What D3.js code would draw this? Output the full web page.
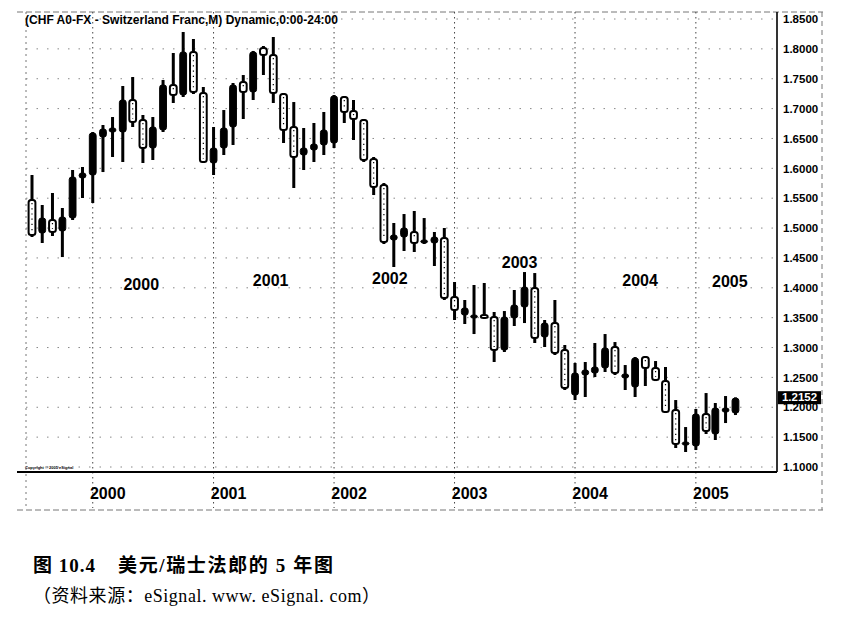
<!DOCTYPE html>
<html>
<head>
<meta charset="utf-8">
<script src="https://cdn.jsdelivr.net/npm/d3@7"></script>
<style>
  body { margin: 0; background: #fff; }
  svg { display: block; }
</style>
</head>
<body>
<div id="chart"></div>
<script>
// Monthly USD/CHF candles, Jul 1999 .. May 2005
const startMonth = new Date(1999, 6, 1);
const opens = [
  1.5470, 1.4917, 1.5135, 1.4951, 1.5168, 1.5838,
  1.5888, 1.6524, 1.6608, 1.6608, 1.7144, 1.6809, 1.6340, 1.6642, 1.7395, 1.7228, 1.7948, 1.7261,
  1.6089, 1.6340, 1.6692, 1.7445, 1.7278, 1.8014, 1.7897, 1.7244, 1.6692, 1.6223, 1.6307, 1.6391,
  1.6424, 1.7194, 1.6960, 1.6809, 1.6156, 1.5721, 1.4800, 1.4850, 1.4934, 1.4750, 1.4750, 1.4833,
  1.3846, 1.3544, 1.3494, 1.3544, 1.3511, 1.2958, 1.3494, 1.3678, 1.3996, 1.3176, 1.3410, 1.2958,
  1.2205, 1.2540, 1.2573, 1.2657, 1.3009, 1.2490, 1.2339, 1.2841, 1.2657, 1.2439, 1.1954, 1.1368,
  1.1351, 1.1887, 1.1552, 1.1920, 1.1904
];
const highs = [
  1.5888, 1.5386, 1.5587, 1.5336, 1.5972, 1.6022,
  1.6608, 1.6725, 1.6859, 1.7378, 1.7529, 1.6893, 1.6859, 1.7479, 1.7931, 1.8282, 1.8165, 1.7362,
  1.6692, 1.6976, 1.7429, 1.7562, 1.7965, 1.8048, 1.8199, 1.7261, 1.7110, 1.6675, 1.6759, 1.6943,
  1.7228, 1.7211, 1.7144, 1.6826, 1.6190, 1.5754, 1.5085, 1.5235, 1.5286, 1.5168, 1.4934, 1.5001,
  1.4097, 1.3796, 1.4047, 1.4080, 1.3595, 1.3611, 1.3963, 1.4264, 1.4247, 1.3461, 1.3796, 1.3042,
  1.2741, 1.2758, 1.3076, 1.3226, 1.3092, 1.2707, 1.2841, 1.2858, 1.2774, 1.2674, 1.2121, 1.1669,
  1.1971, 1.2238, 1.2071, 1.2188, 1.2165
];
const lows = [
  1.4850, 1.4750, 1.4867, 1.4515, 1.5135, 1.5503,
  1.5419, 1.5938, 1.6190, 1.6106, 1.6692, 1.6089, 1.6139, 1.6608, 1.7094, 1.7194, 1.7244, 1.6089,
  1.5888, 1.6223, 1.6391, 1.6826, 1.7144, 1.7562, 1.7094, 1.6424, 1.5671, 1.5972, 1.6106, 1.6223,
  1.6340, 1.6759, 1.6474, 1.6106, 1.5553, 1.4733, 1.4348, 1.4616, 1.4599, 1.4733, 1.4365, 1.3796,
  1.3461, 1.3394, 1.3226, 1.3494, 1.2758, 1.2925, 1.3360, 1.3410, 1.3076, 1.3009, 1.2875, 1.2289,
  1.2121, 1.2172, 1.2506, 1.2590, 1.2540, 1.2289, 1.2172, 1.2356, 1.2439, 1.1904, 1.1318, 1.1251,
  1.1284, 1.1552, 1.1452, 1.1736, 1.1870
];
const closes = [
  1.4884, 1.5168, 1.4934, 1.5185, 1.5855, 1.5922,
  1.6591, 1.6658, 1.6675, 1.7144, 1.6776, 1.6340, 1.6692, 1.7395, 1.7228, 1.7948, 1.7278, 1.6106,
  1.6340, 1.6675, 1.7395, 1.7278, 1.7948, 1.7897, 1.7261, 1.6642, 1.6190, 1.6340, 1.6407, 1.6642,
  1.7211, 1.6943, 1.6826, 1.6139, 1.5687, 1.4767, 1.4884, 1.5001, 1.4750, 1.4800, 1.4850, 1.3829,
  1.3628, 1.3662, 1.3544, 1.3494, 1.2958, 1.3511, 1.3712, 1.4013, 1.3159, 1.3410, 1.2908, 1.2322,
  1.2573, 1.2624, 1.2674, 1.2992, 1.2573, 1.2557, 1.2824, 1.2657, 1.2456, 1.1920, 1.1385, 1.1418,
  1.1887, 1.1602, 1.1987, 1.1987, 1.2152
];
const lastPrice = 1.2152;
const priceTicks = [1.10, 1.15, 1.20, 1.25, 1.30, 1.35, 1.40, 1.45, 1.50, 1.55, 1.60, 1.65, 1.70, 1.75, 1.80, 1.85];
const years = [2000, 2001, 2002, 2003, 2004, 2005];
// in-chart year notes: [label, date it sits over, price level]
const notes = [
  ["2000", new Date(2000, 4, 27), 1.4030],
  ["2001", new Date(2001, 5, 23), 1.4097],
  ["2002", new Date(2002, 5, 19), 1.4139],
  ["2003", new Date(2003, 6, 17), 1.4398],
  ["2004", new Date(2004, 6, 16), 1.4105],
  ["2005", new Date(2005, 3, 14), 1.4088]
];
const title = "(CHF A0-FX - Switzerland Franc,M) Dynamic,0:00-24:00";

const data = opens.map((o, i) => ({
  date: d3.timeMonth.offset(startMonth, i),
  open: o, high: highs[i], low: lows[i], close: closes[i]
}));

const width = 842, height = 618;
const plot = {left: 26, right: 777, top: 12, bottom: 472};

const svg = d3.select("#chart")
  .append("svg")
  .attr("width", width)
  .attr("height", height)
  .style("background", "#fff");

const x = d3.scaleTime()
  .domain([startMonth, new Date(2005, 6, 1)])
  .range([32, 755.6]);

const y = d3.scaleLinear()
  .domain([1.10, 1.85])
  .range([467, 19]);

// outer dashed frame
const frame = svg.append("g")
  .attr("fill", "none")
  .attr("stroke", "#777")
  .attr("stroke-width", 1);
frame.append("line").attr("x1", 17).attr("x2", 823).attr("y1", plot.top).attr("y2", plot.top)
  .attr("stroke-dasharray", "6,3");
frame.append("line").attr("x1", 17).attr("x2", 823).attr("y1", 510).attr("y2", 510)
  .attr("stroke-dasharray", "6,3");
frame.append("line").attr("x1", plot.left).attr("x2", plot.left).attr("y1", plot.top).attr("y2", 510)
  .attr("stroke-dasharray", "2,4");
frame.append("line").attr("x1", 822).attr("x2", 822).attr("y1", plot.top).attr("y2", 510)
  .attr("stroke-dasharray", "5,4");

// horizontal grid
svg.append("g")
  .selectAll("line")
  .data(priceTicks)
  .join("line")
  .attr("x1", plot.left)
  .attr("x2", plot.right)
  .attr("y1", d => y(d))
  .attr("y2", d => y(d))
  .attr("stroke", "#888")
  .attr("stroke-dasharray", "1.5,9");

// vertical year grid
svg.append("g")
  .selectAll("line")
  .data(years)
  .join("line")
  .attr("x1", d => x(new Date(d, 0, 1)))
  .attr("x2", d => x(new Date(d, 0, 1)))
  .attr("y1", plot.top)
  .attr("y2", 508)
  .attr("stroke", "#444")
  .attr("stroke-dasharray", "1.5,3.5");

// title
svg.append("text")
  .attr("x", 25)
  .attr("y", 24)
  .attr("textLength", 313)
  .attr("lengthAdjust", "spacingAndGlyphs")
  .style("font-family", "Liberation Sans, Arial, sans-serif")
  .style("font-weight", "bold")
  .style("font-size", "12px")
  .text(title);

// candles
const candles = svg.append("g")
  .selectAll("g")
  .data(data)
  .join("g")
  .attr("transform", d => `translate(${x(d.date)},0)`);

candles.append("line")
  .attr("y1", d => y(d.high))
  .attr("y2", d => y(d.low))
  .attr("stroke", "#000")
  .attr("stroke-width", 3);

candles.append("rect")
  .attr("x", -3.4)
  .attr("width", 6.8)
  .attr("y", d => y(Math.max(d.open, d.close)))
  .attr("height", d => Math.max(3, Math.abs(y(d.open) - y(d.close))))
  .attr("rx", 2.5)
  .attr("fill", d => d.close >= d.open ? "#000" : "#fff")
  .attr("stroke", "#000")
  .attr("stroke-width", d => d.close >= d.open ? 1 : 2);

// faint dots inside the hollow bodies
candles.filter(d => d.close < d.open && y(d.close) - y(d.open) > 8)
  .append("line")
  .attr("y1", d => y(d.open) + 3)
  .attr("y2", d => y(d.close) - 3)
  .attr("stroke", "#000")
  .attr("stroke-width", 1.2)
  .attr("stroke-dasharray", "1.2,4");

// in-chart year notes
svg.append("g")
  .selectAll("text")
  .data(notes)
  .join("text")
  .attr("x", d => x(d[1]))
  .attr("y", d => y(d[2]))
  .attr("text-anchor", "middle")
  .attr("dominant-baseline", "middle")
  .style("font-family", "Liberation Sans, Arial, sans-serif")
  .style("font-weight", "bold")
  .style("font-size", "16px")
  .text(d => d[0]);

// plot borders (solid)
svg.append("line").attr("x1", plot.right).attr("x2", plot.right)
  .attr("y1", plot.top).attr("y2", plot.bottom)
  .attr("stroke", "#000").attr("stroke-width", 1.6);
svg.append("line").attr("x1", 17).attr("x2", plot.right)
  .attr("y1", plot.bottom).attr("y2", plot.bottom)
  .attr("stroke", "#000").attr("stroke-width", 2);

// right price axis
const yAxis = svg.append("g")
  .attr("transform", `translate(${plot.right + 3},0)`)
  .call(d3.axisRight(y).tickValues(priceTicks).tickSize(0).tickFormat(d3.format(".4f")));
yAxis.select(".domain").remove();
yAxis.selectAll("text")
  .attr("x", 3)
  .style("font-family", "Liberation Sans, Arial, sans-serif")
  .style("font-weight", "bold")
  .style("font-size", "11.5px")
  .attr("fill", "#000");

// last price marker (sits over the top of the 1.2000 label, as in the source)
svg.append("rect")
  .attr("x", plot.right + 1)
  .attr("y", y(lastPrice) - 7)
  .attr("width", 43)
  .attr("height", 13)
  .attr("fill", "#000");
svg.append("text")
  .attr("x", plot.right + 22.5)
  .attr("y", y(lastPrice))
  .attr("text-anchor", "middle")
  .attr("dominant-baseline", "middle")
  .attr("fill", "#fff")
  .style("font-family", "Liberation Sans, Arial, sans-serif")
  .style("font-weight", "bold")
  .style("font-size", "11.5px")
  .text(d3.format(".4f")(lastPrice));

// bottom time axis labels
const xAxis = svg.append("g")
  .attr("transform", `translate(0,${plot.bottom})`)
  .call(d3.axisBottom(x)
    .tickValues(years.map(yr => new Date(yr, 1, 14)))
    .tickSize(0)
    .tickFormat(d3.timeFormat("%Y")));
xAxis.select(".domain").remove();
xAxis.selectAll("text")
  .attr("y", 16)
  .style("font-family", "Liberation Sans, Arial, sans-serif")
  .style("font-weight", "bold")
  .style("font-size", "16px")
  .attr("fill", "#000");

// tiny copyright
svg.append("text")
  .attr("x", 25)
  .attr("y", 469)
  .style("font-family", "Liberation Sans, Arial, sans-serif")
  .style("font-size", "4px")
  .style("font-weight", "bold")
  .text("Copyright © 2005 eSignal");

// caption
const cap = svg.append("g")
  .style("font-family", "Liberation Serif, Noto Sans CJK SC, serif")
  .style("font-weight", "bold")
  .style("font-size", "19px");
cap.append("text")
  .attr("x", 33)
  .attr("y", 572)
  .attr("textLength", 62)
  .attr("lengthAdjust", "spacing")
  .text("图 10.4");
cap.append("text")
  .attr("x", 118)
  .attr("y", 572)
  .attr("textLength", 215)
  .attr("lengthAdjust", "spacing")
  .text("美元/瑞士法郎的 5 年图");

svg.append("text")
  .attr("x", 33)
  .attr("y", 602)
  .attr("textLength", 347)
  .attr("lengthAdjust", "spacing")
  .style("font-family", "Liberation Serif, Noto Sans CJK SC, serif")
  .style("font-size", "18px")
  .text("（资料来源：eSignal.  www. eSignal. com）");
</script>
</body>
</html>
